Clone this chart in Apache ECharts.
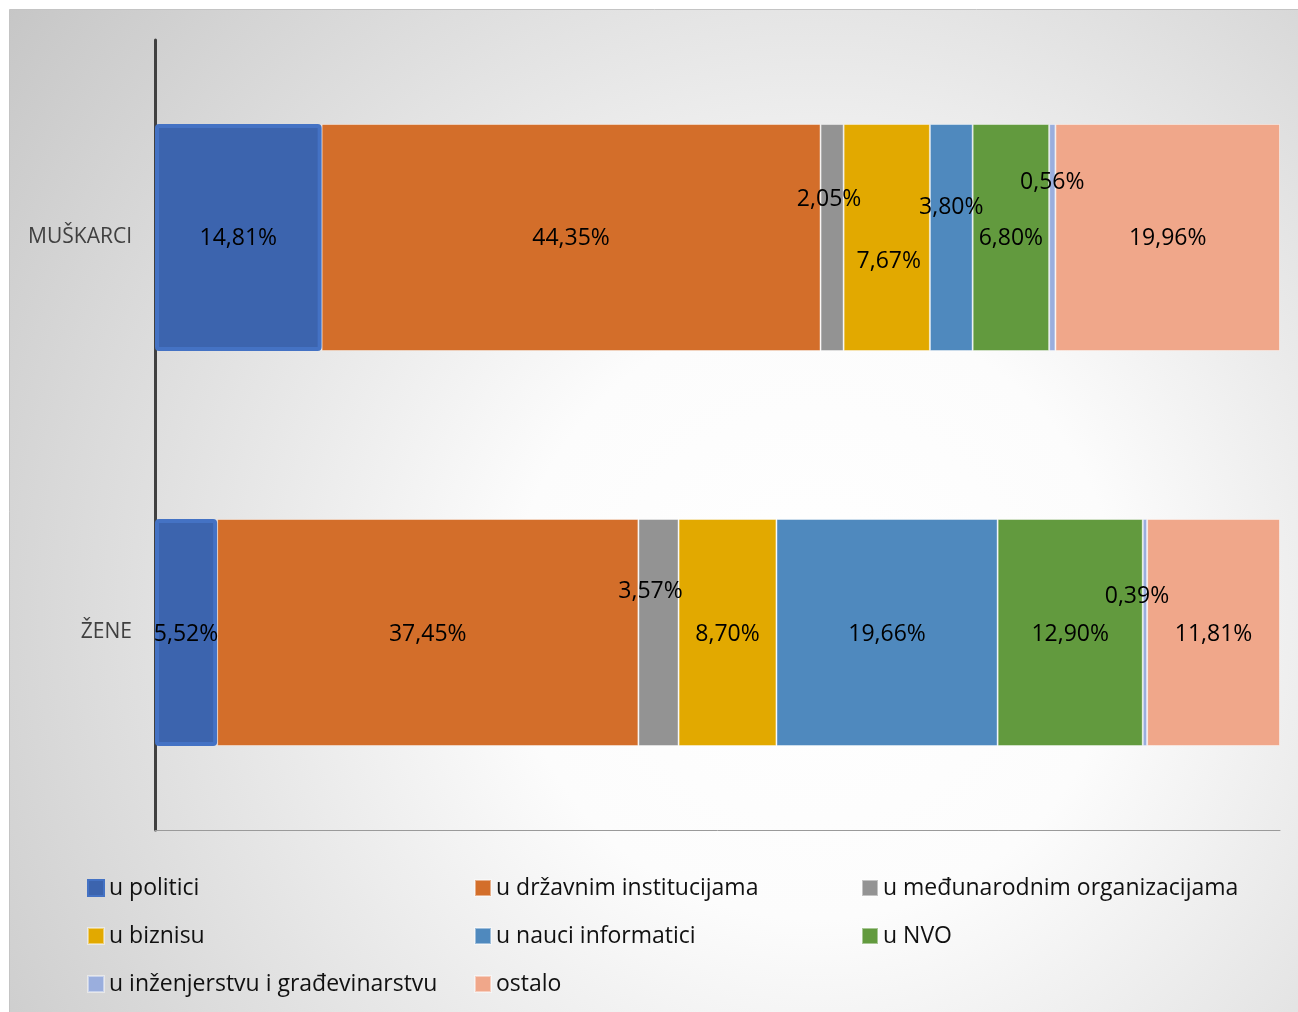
<!DOCTYPE html>
<html>
<head>
<meta charset="utf-8">
<script src="https://cdn.jsdelivr.net/npm/echarts@6/dist/echarts.min.js"></script>
<style>
html,body{margin:0;padding:0;background:#fff;}
#c{width:1298px;height:1012px;}
</style>
</head>
<body>
<div id="c"></div>
<script>
const categories = ['MUŠKARCI', 'ŽENE'];
const seriesNames = ['u politici', 'u državnim institucijama', 'u međunarodnim organizacijama', 'u biznisu', 'u nauci informatici', 'u NVO', 'u inženjerstvu i građevinarstvu', 'ostalo'];
const politici = [14.81, 5.52];
const drzavnim = [44.35, 37.45];
const medjunarodnim = [2.05, 3.57];
const biznis = [7.67, 8.70];
const nauka = [3.80, 19.66];
const nvo = [6.80, 12.90];
const inzenjerstvo = [0.56, 0.39];
const ostalo = [19.96, 11.81];

const seriesData = [politici, drzavnim, medjunarodnim, biznis, nauka, nvo, inzenjerstvo, ostalo];
const colors = ['#3C64AE', '#D36E2A', '#939393', '#E2A900', '#4F89BE', '#629A3E', '#9AAEDD', '#F0A78A'];
// label offsets per series, per category (styling only)
const labelOffsets = [
  [[0,1],[0,2]],
  [[0,1],[0,2]],
  [[-3,-38],[-8,-41]],
  [[2,24],[0,2]],
  [[0,-30],[0,2]],
  [[0,1],[0,2]],
  [[0,-55],[-8,-36]],
  [[0,1],[0,2]]
];
const FONT = '"Open Sans", "Noto Sans", sans-serif';

const chart = echarts.init(document.getElementById('c'), null, {renderer: 'canvas'});

const series = seriesData.map((arr, si) => ({
  name: seriesNames[si],
  type: 'bar',
  stack: 'total',
  barCategoryGap: '42.5%',
  itemStyle: si === 0
    ? {color: colors[si], borderColor: '#4472C4', borderWidth: 4, borderRadius: 2}
    : {color: colors[si], borderColor: 'rgba(255,255,255,0.45)', borderWidth: 1},
  z: si === 0 ? 3 : 2,
  label: {
    show: true,
    position: 'inside',
    color: '#000',
    fontFamily: FONT,
    fontSize: 23,
    formatter: p => p.value.toFixed(2).replace('.', ',') + '%'
  },
  data: arr.map((v, ci) => ({
    value: v,
    label: {offset: labelOffsets[si][ci]}
  }))
}));

chart.setOption({
  animation: false,
  color: colors,
  graphic: [{
    type: 'rect',
    z: -10,
    silent: true,
    shape: {x: 9.5, y: 9.5, width: 1300, height: 1010},
    style: {
      fill: new echarts.graphic.RadialGradient(0.62, 0.6, 1.0, [
        {offset: 0, color: '#ffffff'},
        {offset: 0.3, color: '#fcfcfc'},
        {offset: 1, color: '#c6c6c6'}
      ]),
      stroke: '#c4c4c4',
      lineWidth: 1
    }
  }],
  grid: {left: 155, right: 18, top: 40, bottom: 182, containLabel: false},
  xAxis: {
    type: 'value',
    min: 0,
    max: 100,
    axisLabel: {show: false},
    splitLine: {show: false},
    axisTick: {show: false},
    axisLine: {show: true, lineStyle: {color: '#9a9a9a', width: 1}}
  },
  yAxis: {
    type: 'category',
    data: categories,
    inverse: true,
    axisTick: {show: false},
    axisLine: {show: true, lineStyle: {color: '#404040', width: 3}},
    axisLabel: {color: '#404040', fontFamily: FONT, fontSize: 21, margin: 23}
  },
  legend: {
    data: seriesNames,
    left: 87,
    top: 876,
    width: 1200,
    padding: 0,
    orient: 'horizontal',
    itemWidth: 16,
    itemHeight: 16,
    itemGap: 24,
    icon: 'rect',
    textStyle: {color: '#111', fontFamily: FONT, fontSize: 23, width: 341, lineHeight: 24, overflow: 'none'}
  },
  series: series
});
</script>
</body>
</html>
